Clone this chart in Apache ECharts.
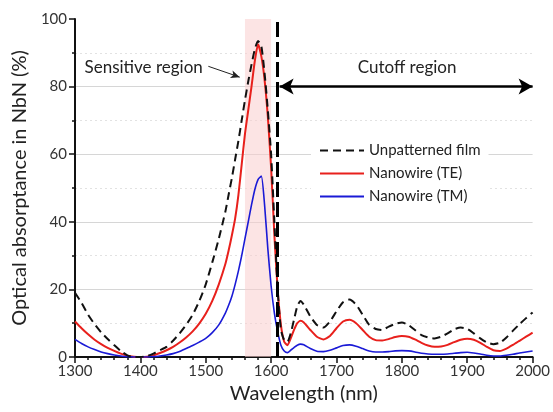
<!DOCTYPE html>
<html>
<head>
<meta charset="utf-8">
<script src="https://cdn.jsdelivr.net/npm/echarts@6/dist/echarts.min.js"></script>
<style>
  html, body { margin: 0; padding: 0; background: #fff; }
  #chart { width: 553px; height: 412px; }
</style>
</head>
<body>
<div id="chart"></div>
<script>
  // wavelength grid (nm)
  const wavelength = [
    1300, 1310, 1320, 1330, 1340, 1350, 1360, 1370, 1380, 1390,
    1400, 1410, 1420, 1430, 1440, 1450, 1460, 1470, 1480, 1490,
    1500, 1510, 1520, 1530, 1535, 1540, 1545, 1550, 1555, 1560,
    1565, 1570, 1575, 1580, 1585, 1590, 1595, 1600, 1605, 1610,
    1615, 1620, 1625, 1630, 1635, 1640, 1645, 1650, 1660, 1670,
    1680, 1690, 1700, 1710, 1720, 1730, 1740, 1750, 1760, 1770,
    1780, 1790, 1800, 1810, 1820, 1830, 1840, 1850, 1860, 1870,
    1880, 1890, 1900, 1910, 1920, 1930, 1940, 1950, 1960, 1970,
    1980, 1990, 2000
  ];
  // absorptance (%)
  const unpatterned = [
    19, 16, 12.5, 9.7, 7.3, 5.3, 3.5, 1.8, 0.5, 0,
    0, 0.3, 1, 2, 3, 4.8, 7, 9.5, 12.5, 16.5,
    21.5, 28, 35, 43, 48, 53, 58.5, 64, 70, 76,
    81.5, 86.5, 91, 93.5, 92, 84, 73, 60, 40, 20,
    8, 5, 4.5, 7, 11, 15, 16.6, 15.5, 12, 9.5,
    8.7, 10.5, 13.5, 16.2, 17, 15.5, 12.5, 9.5, 8.3, 8,
    9, 9.8, 10.2, 9.5, 8, 6.5, 5.8, 5.5, 6, 7,
    8.2, 8.7, 8.3, 7, 5.5, 4.3, 3.8, 4.2, 5.8, 7.8,
    9.7, 11.5, 13.2
  ];
  const nanowireTE = [
    10.5, 8.5, 6.7, 5.1, 3.8, 2.7, 1.8, 1, 0.4, 0.1,
    0, 0.1, 0.5, 1.2, 2, 3, 4.3, 5.8, 7.6, 9.9,
    12.8, 16.6, 21.5, 27.5, 31.5, 36, 41, 48, 57, 66,
    73, 80, 87.5, 92.5, 89, 82, 71, 56, 36, 20,
    9.5, 4.5, 3.5, 5.5, 8, 10, 10.7, 10.2, 8, 6,
    5.2, 6.2, 8.5, 10.5, 11, 10, 8, 6, 5, 4.9,
    5.3, 5.9, 6.2, 6, 5.2, 4.2, 3.4, 3, 3.1, 3.6,
    4.4, 5.1, 5.4, 5.1, 4.2, 3, 2, 1.8, 2.5, 3.6,
    4.8, 6, 7.2
  ];
  const nanowireTM = [
    5.2, 4, 3, 2.2, 1.5, 1, 0.6, 0.3, 0.1, 0,
    0, 0, 0.1, 0.3, 0.6, 1, 1.6, 2.5, 3.4, 4.4,
    5.5, 7.2, 9.5, 13, 15.3, 18, 21.5, 25.5, 30, 35,
    40, 45, 49.5, 52.5, 53.5, 45, 32, 21, 13, 7.5,
    3.5, 1.8, 1.3, 2, 2.8, 3.5, 3.8, 3.6, 2.5, 1.7,
    1.6, 2, 2.7, 3.4, 3.6, 3.2, 2.5, 1.8, 1.5, 1.5,
    1.6, 1.8, 1.9, 1.8, 1.5, 1.1, 0.9, 0.8, 0.8, 0.9,
    1.1, 1.3, 1.4, 1.2, 0.9, 0.5, 0.3, 0.3, 0.5, 0.8,
    1.2, 1.5, 1.8
  ];
  const sensitiveBand = [1560, 1600];
  const cutoffAt = 1610;

  const font = 'Lato, "Open Sans", sans-serif';
  const pairs = ys => wavelength.map((x, i) => [x, ys[i]]);

  const chart = echarts.init(document.getElementById('chart'));
  chart.setOption({
    animation: false,
    textStyle: {fontFamily: font},
    grid: {left: 75, right: 17, top: 19, bottom: 55},
    legend: {
      orient: 'vertical',
      left: 311,
      top: 140,
      padding: [3, 8, 3, 8],
      itemGap: 8,
      itemWidth: 44,
      itemHeight: 14,
      backgroundColor: '#fff',
      itemStyle: {opacity: 0},
      textStyle: {fontSize: 15, color: '#222', fontFamily: font},
      data: ['Unpatterned film', 'Nanowire (TE)', 'Nanowire (TM)']
    },
    xAxis: {
      type: 'value',
      min: 1300,
      max: 2000,
      interval: 100,
      name: 'Wavelength (nm)',
      nameLocation: 'middle',
      nameGap: 26,
      nameTextStyle: {fontSize: 20, color: '#222'},
      axisLine: {lineStyle: {color: '#111', width: 2}},
      axisTick: {length: 6, lineStyle: {color: '#111', width: 1.5}},
      minorTick: {show: true, splitNumber: 5, length: 3, lineStyle: {color: '#111', width: 1.5}},
      axisLabel: {fontSize: 15, color: '#333', margin: 7, formatter: v => String(v)},
      splitLine: {show: false}
    },
    yAxis: {
      type: 'value',
      min: 0,
      max: 100,
      interval: 20,
      name: 'Optical absorptance in NbN (%)',
      nameLocation: 'middle',
      nameGap: 43,
      nameTextStyle: {fontSize: 20, color: '#222'},
      axisLine: {show: true, lineStyle: {color: '#111', width: 2}},
      axisTick: {show: true, length: 6, lineStyle: {color: '#111', width: 1.5}},
      minorTick: {show: true, splitNumber: 2, length: 3, lineStyle: {color: '#111', width: 1.5}},
      axisLabel: {fontSize: 15, color: '#333', margin: 8},
      splitLine: {
        show: true,
        lineStyle: {color: ['#d6d6d6', '#d6d6d6', '#d6d6d6', '#d6d6d6', '#d6d6d6', 'rgba(0,0,0,0)'], width: 1}
      },
      minorSplitLine: {show: true, lineStyle: {color: '#e2e2e2', type: [2, 3], width: 1}}
    },
    series: [
      { // pink band + annotations
        type: 'line',
        z: 1,
        data: [],
        silent: true,
        markArea: {
          silent: true,
          itemStyle: {color: 'rgba(250, 205, 205, 0.55)'},
          data: [[{xAxis: sensitiveBand[0]}, {xAxis: sensitiveBand[1]}]]
        },
        markPoint: {
          symbol: 'circle',
          symbolSize: 0,
          silent: true,
          label: {show: true, position: 'inside', fontSize: 17, color: '#222', fontFamily: font},
          data: [
            {coord: [1405, 85.5], label: {formatter: 'Sensitive region'}},
            {coord: [1808, 85.5], label: {formatter: 'Cutoff region'}}
          ]
        },
        markLine: {
          silent: true,
          label: {show: false},
          symbol: ['arrow', 'arrow'],
          symbolSize: [12, 14],
          lineStyle: {color: '#000', width: 2.5, type: 'solid'},
          data: [[{coord: [1613, 80]}, {coord: [2000, 80]}]]
        }
      },
      {
        name: 'Unpatterned film',
        type: 'line',
        z: 3,
        data: pairs(unpatterned),
        showSymbol: false,
        symbol: 'none',
        smooth: 0.2,
        lineStyle: {color: '#111', width: 2, type: [8, 5]},
        itemStyle: {color: '#111'},
        markLine: {
          silent: true,
          symbol: 'none',
          label: {show: false},
          lineStyle: {color: '#000', width: 3, type: [15, 5]},
          data: [{xAxis: cutoffAt}]
        }
      },
      {
        name: 'Nanowire (TE)',
        type: 'line',
        z: 2,
        data: pairs(nanowireTE),
        showSymbol: false,
        symbol: 'none',
        smooth: 0.2,
        lineStyle: {color: '#e8201c', width: 2},
        itemStyle: {color: '#e8201c'}
      },
      {
        name: 'Nanowire (TM)',
        type: 'line',
        z: 2,
        data: pairs(nanowireTM),
        showSymbol: false,
        symbol: 'none',
        smooth: 0.2,
        lineStyle: {color: '#1a1ad6', width: 1.6},
        itemStyle: {color: '#1a1ad6'},
        markLine: {
          silent: true,
          label: {show: false},
          data: [
            [
              {coord: [1504, 86], symbol: 'none', lineStyle: {color: '#222', width: 1, type: 'solid'}},
              {coord: [1552, 82.8], symbol: 'arrow', symbolSize: [6, 9]}
            ]
          ]
        }
      }
    ]
  });
</script>
</body>
</html>
